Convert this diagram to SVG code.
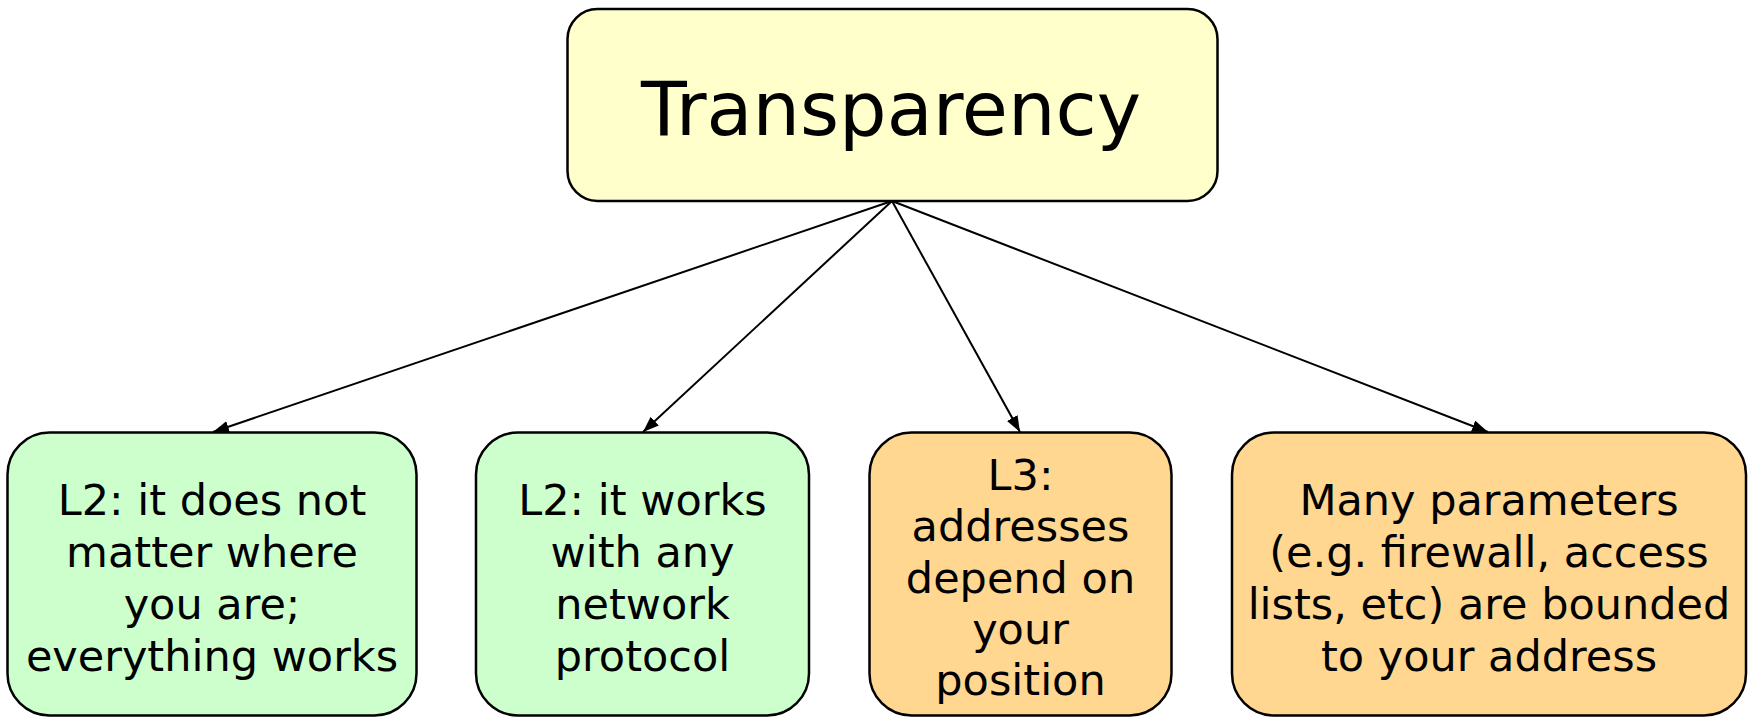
<svg xmlns="http://www.w3.org/2000/svg" width="1748" height="718" viewBox="0 0 1748 718">
<style>
.box{stroke:#000;stroke-width:2.5}
.top{fill:#FFFFCC}
.green{fill:#CCFFCC}
.orange{fill:#FFD791}
text{font-family:"DejaVu Sans","Verdana",sans-serif;fill:#000;text-anchor:middle}
.title{font-size:75px}
.lbl{font-size:43px}
.conn line{stroke:#000;stroke-width:2;marker-end:url(#arr)}
</style>
<defs>
<marker id="arr" markerUnits="userSpaceOnUse" markerWidth="17" markerHeight="13" refX="16" refY="6" orient="auto">
<path d="M0,0 L16,6 L0,12 z" fill="#000"/>
</marker>
</defs>
<rect width="1748" height="718" fill="#fff"/>
<g id="connectors" class="conn">
<line x1="892" y1="201" x2="213" y2="432"/>
<line x1="892" y1="201" x2="643" y2="432"/>
<line x1="892" y1="201" x2="1020" y2="432"/>
<line x1="892" y1="201" x2="1488" y2="432"/>
</g>
<g id="transparency">
<rect class="box top" x="567.5" y="9" width="650" height="192" rx="30" ry="30"/>
<text class="title" x="891" y="135">Transparency</text>
</g>
<g id="l2-location">
<rect class="box green" x="7.5" y="432.5" width="409" height="283" rx="42" ry="42"/>
<text class="lbl" x="212" y="515">L2: it does not</text>
<text class="lbl" x="212" y="567">matter where</text>
<text class="lbl" x="212" y="619">you are;</text>
<text class="lbl" x="212" y="671">everything works</text>
</g>
<g id="l2-protocol">
<rect class="box green" x="476" y="432.5" width="333" height="283" rx="42" ry="42"/>
<text class="lbl" x="642.5" y="515">L2: it works</text>
<text class="lbl" x="642.5" y="567">with any</text>
<text class="lbl" x="642.5" y="619">network</text>
<text class="lbl" x="642.5" y="671">protocol</text>
</g>
<g id="l3-addresses">
<rect class="box orange" x="869.5" y="432.5" width="302" height="283" rx="42" ry="42"/>
<text class="lbl" x="1020.5" y="490">L3:</text>
<text class="lbl" x="1020.5" y="541">addresses</text>
<text class="lbl" x="1020.5" y="592.5">depend on</text>
<text class="lbl" x="1020.5" y="644">your</text>
<text class="lbl" x="1020.5" y="695">position</text>
</g>
<g id="parameters">
<rect class="box orange" x="1232" y="432.5" width="514" height="283" rx="42" ry="42"/>
<text class="lbl" x="1489" y="515">Many parameters</text>
<text class="lbl" x="1489" y="567">(e.g. firewall, access</text>
<text class="lbl" x="1489" y="619">lists, etc) are bounded</text>
<text class="lbl" x="1489" y="671">to your address</text>
</g>
</svg>
